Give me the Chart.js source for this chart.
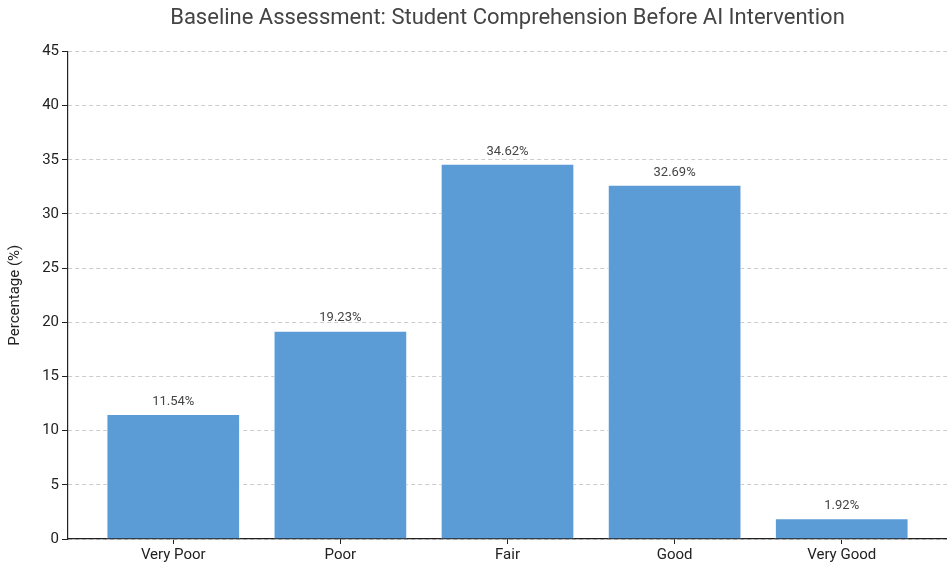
<!DOCTYPE html>
<html>
<head>
<meta charset="utf-8">
<title>Baseline Assessment</title>
<style>
  body { margin: 0; background: #fff; }
  .wrap { width: 947px; height: 566px; }
</style>
</head>
<body>
<div class="wrap"><canvas id="chart" width="947" height="566"></canvas></div>
<script src="https://cdn.jsdelivr.net/npm/chart.js"></script>
<script>
  // Dados
  const categorias = ['Very Poor', 'Poor', 'Fair', 'Good', 'Very Good'];
  const percentuais = [11.54, 19.23, 34.62, 32.69, 1.92];
  const yTicks = [0, 5, 10, 15, 20, 25, 30, 35, 40, 45];

  const FONT = 'Roboto, "DejaVu Sans", sans-serif';

  // rótulos em cima das barras
  const rotulos = {
    id: 'rotulos',
    afterDatasetsDraw(chart) {
      const ctx = chart.ctx;
      const meta = chart.getDatasetMeta(0);
      ctx.save();
      ctx.font = '13px ' + FONT;
      ctx.fillStyle = '#444';
      ctx.textAlign = 'center';
      ctx.textBaseline = 'bottom';
      meta.data.forEach((bar, i) => {
        ctx.fillText(percentuais[i].toFixed(2) + '%', bar.x, bar.y - 6);
      });
      ctx.restore();
    }
  };

  new Chart(document.getElementById('chart'), {
    type: 'bar',
    data: {
      datasets: [{
        data: percentuais.map((v, i) => ({ x: i, y: v })),
        backgroundColor: '#5b9bd6',
        borderColor: '#ffffff',
        borderWidth: 1,
        categoryPercentage: 0.8,
        barPercentage: 1.0
      }]
    },
    options: {
      responsive: false,
      animation: false,
      layout: { padding: 0 },
      plugins: {
        legend: { display: false },
        tooltip: { enabled: false },
        title: {
          display: true,
          fullSize: false, // centrado sobre a área do gráfico
          text: 'Baseline Assessment: Student Comprehension Before AI Intervention',
          color: '#444',
          font: { family: FONT, size: 22, weight: 'normal' },
          padding: { top: 5, bottom: 20 }
        }
      },
      scales: {
        x: {
          type: 'linear',
          min: -0.63,
          max: 4.63,
          offset: false,
          afterBuildTicks(axis) {
            axis.ticks = categorias.map((c, i) => ({ value: i }));
          },
          afterFit(axis) { axis.height = 27; },
          ticks: {
            callback: (v) => categorias[v],
            color: '#222',
            font: { family: FONT, size: 15 },
            padding: 2,
            maxRotation: 0,
            autoSkip: false
          },
          grid: {
            offset: false,
            drawOnChartArea: false,
            drawTicks: true,
            tickLength: 5,
            tickColor: '#222',
            tickWidth: 1
          },
          border: { display: true, color: '#222', width: 1.2 }
        },
        y: {
          min: 0,
          max: 45,
          afterBuildTicks(axis) {
            axis.ticks = yTicks.map(v => ({ value: v }));
          },
          afterFit(axis) { axis.width = 68; },
          title: {
            display: true,
            text: 'Percentage (%)',
            color: '#222',
            font: { family: FONT, size: 15 },
            padding: { top: 6, bottom: 0 }
          },
          ticks: {
            color: '#222',
            font: { family: FONT, size: 15 },
            padding: 3
          },
          grid: {
            color: '#cccccc',
            lineWidth: 1,
            tickLength: 6,
            tickColor: '#222',
            tickBorderDash: [],
            tickWidth: 1
          },
          border: { display: true, color: '#222', width: 1.2, dash: [4, 3] }
        }
      }
    },
    plugins: [rotulos]
  });
</script>
</body>
</html>
